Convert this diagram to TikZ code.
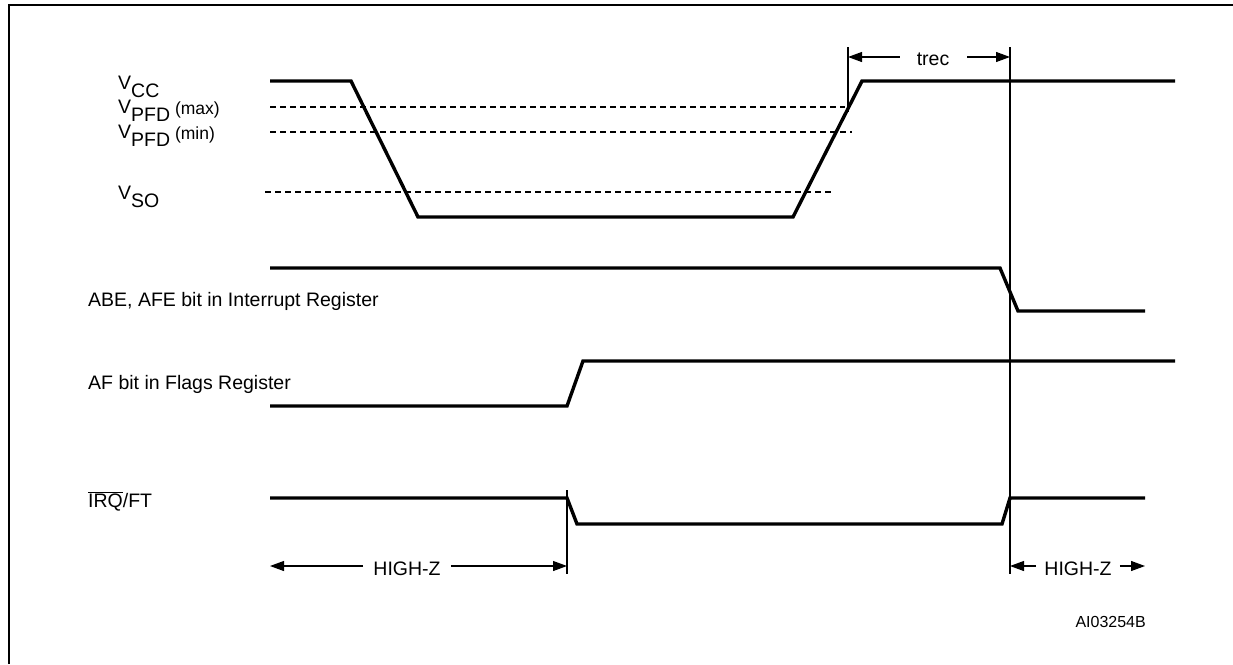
\documentclass[tikz,border=0pt]{standalone}
\usepackage{fontspec}
\setmainfont{Liberation Sans}
\usetikzlibrary{arrows.meta}
\newcommand\vsym[2]{{\fontsize{19.5}{19.5}\selectfont V}\raisebox{-8pt}{\fontsize{19.5}{19.5}\selectfont #1}{\fontsize{17.5}{17.5}\selectfont\raisebox{-1pt}{#2}}}
\begin{document}
\begin{tikzpicture}[x=1pt,y=-1pt,
  sig/.style={line width=3.4pt, line join=miter, line cap=butt},
  thinline/.style={line width=1.1pt},
  lvl/.style={line width=1.2pt, dash pattern=on 6pt off 4pt},
  dimarrow/.style={line width=1.1pt, -{Triangle[length=14pt,width=10pt]}},
  lbl/.style={anchor=base west, inner sep=0pt, font=\fontsize{19.5}{20}\selectfont},
  ctr/.style={anchor=base, inner sep=0pt, font=\fontsize{19.5}{20}\selectfont}]
\useasboundingbox (0,0) rectangle (1233,664);
% frame
\draw[line width=2pt] (9,664) -- (9,5) -- (1233,5);
% labels
\node[lbl] (lvcc) at (118,89) {\vsym{CC}{}};
\node[lbl] (lmax) at (118,113) {\vsym{PFD}{ (max)}};
\node[lbl] (lmin) at (118,138) {\vsym{PFD}{ (min)}};
\node[lbl] (lvso) at (118,199) {\vsym{SO}{}};
\node[lbl] (labe) at (88,306) {ABE, AFE bit in Interrupt Register};
\node[lbl] (laf) at (88,389) {AF bit in Flags Register};
\node[lbl] (lirq) at (88,507) {$\overline{\mbox{IRQ}}$/FT};
% level lines
\draw[lvl] (270,107) -- (845,107);
\draw[lvl] (270,132) -- (852,132);
\draw[lvl] (265,192) -- (832,192);
% waveforms
\draw[sig] (270,81) -- (351,81) -- (418,217) -- (793,217) -- (862,81) -- (1175,81);
\draw[sig] (270,268) -- (1000,268) -- (1018,311) -- (1145,311);
\draw[sig] (270,406) -- (567,406) -- (583,361) -- (1175,361);
\draw[sig] (270,498) -- (567,498) -- (577,524) -- (1002,524) -- (1010,498) -- (1145,498);
% reference verticals
\coordinate (t1top) at (848,47);
\coordinate (t1bot) at (848,112);
\coordinate (t2top) at (1010,47);
\coordinate (t2bot) at (1010,574);
\coordinate (h1top) at (567,490);
\coordinate (h1bot) at (567,574);
\draw[thinline] (t1top) -- (t1bot);
\draw[thinline] (t2top) -- (t2bot);
\draw[thinline] (h1top) -- (h1bot);
% trec
\node[ctr] (trec) at (933,65) {trec};
\coordinate (trL) at (848,57);
\coordinate (trR) at (1010,57);
\draw[dimarrow] ([xshift=-17pt]trec.west |- trL) -- (trL);
\draw[dimarrow] ([xshift=18pt]trec.east |- trR) -- (trR);
% HIGH-Z left
\node[ctr] (hzl) at (407,575) {HIGH-Z};
\coordinate (hzlL) at (270,566);
\coordinate (hzlR) at (567,566);
\draw[dimarrow] ([xshift=-10pt]hzl.west |- hzlL) -- (hzlL);
\draw[dimarrow] ([xshift=10pt]hzl.east |- hzlR) -- (hzlR);
% HIGH-Z right
\node[ctr] (hzr) at (1078,575) {HIGH-Z};
\coordinate (hzrL) at (1010,566);
\coordinate (hzrR) at (1145,566);
\draw[dimarrow] ([xshift=-8pt]hzr.west |- hzrL) -- (hzrL);
\draw[dimarrow] ([xshift=8pt]hzr.east |- hzrR) -- (hzrR);
% figure code
\node[anchor=base east, inner sep=0pt, font=\fontsize{16}{16}\selectfont] (code) at (1146,627) {AI03254B};
\end{tikzpicture}
\end{document}
